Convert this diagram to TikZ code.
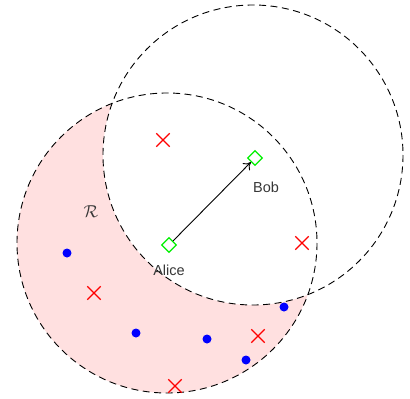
\documentclass[tikz,border=0pt]{standalone}
\usepackage{fontspec}
\setmainfont{Liberation Sans}
\usetikzlibrary{shapes.geometric,shapes.misc,arrows.meta}
\definecolor{pinkfill}{RGB}{255,224,224}
\definecolor{labelgray}{RGB}{55,55,55}
\definecolor{mkgreen}{RGB}{0,240,0}
\tikzset{
  zone/.style={draw=black, line width=0.9pt, dash pattern=on 7pt off 4.5pt},
  party/.style={diamond, aspect=1, draw=mkgreen, line width=1.3pt, inner sep=0pt, minimum size=15pt},
  xmark/.style={cross out, draw=red, line width=1.3pt, inner sep=0pt, minimum size=12pt},
  dotmark/.style={circle, fill=blue, inner sep=0pt, minimum size=9pt},
  lbl/.style={text=labelgray, font=\fontsize{14.5}{16}\selectfont, inner sep=0pt}
}
\begin{document}
\begin{tikzpicture}[x=1pt,y=-1pt]
\useasboundingbox (0,0) rectangle (410,399);
\coordinate (ca) at (167,243);
\coordinate (cb) at (253,155);
% crescent region
\fill[pinkfill] (ca) circle[radius=150];
\fill[white] (cb) circle[radius=150];
\draw[zone] (ca) circle[radius=150];
\draw[zone] (cb) circle[radius=150];
% parties
\node[party] (alice) at (169,245) {};
\node[party] (bob) at (255,158) {};
\draw[line width=0.9pt, -{To[length=7pt,width=10pt]}] (alice) -- (bob);
\node[lbl] (alicel) at (169,270) {Alice};
\node[lbl] (bobl) at (266,187) {Bob};
\node[lbl, font=\fontsize{18}{20}\selectfont] (rl) at (91,212) {$\mathcal{R}$};
% crosses
\node[xmark] (x1) at (163,140) {};
\node[xmark] (x2) at (302,243) {};
\node[xmark] (x3) at (94,293) {};
\node[xmark] (x4) at (258,336) {};
\node[xmark] (x5) at (175,386) {};
% dots
\node[dotmark] (d1) at (67,253) {};
\node[dotmark] (d2) at (136,333) {};
\node[dotmark] (d3) at (207,339) {};
\node[dotmark] (d4) at (246,360) {};
\node[dotmark] (d5) at (284,307) {};
\end{tikzpicture}
\end{document}
